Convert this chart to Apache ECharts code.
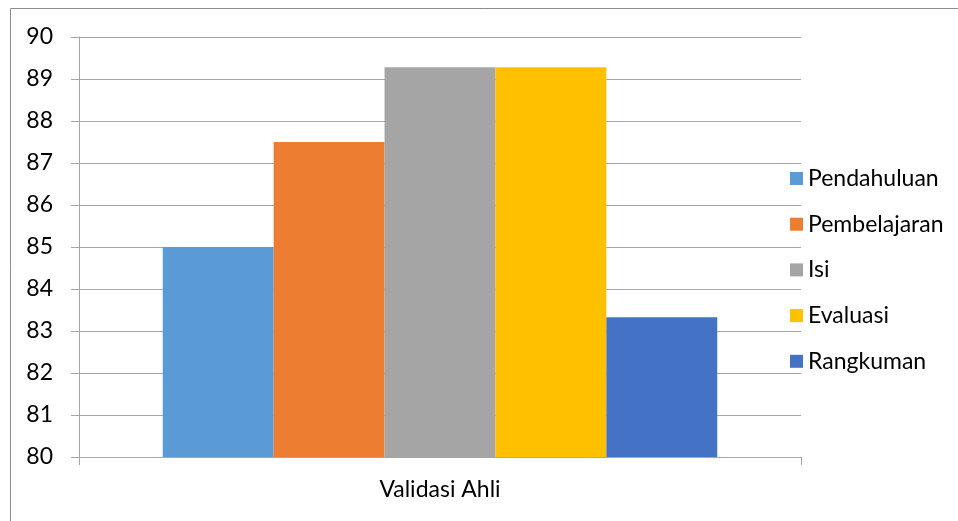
<!DOCTYPE html>
<html>
<head>
<meta charset="utf-8">
<script src="https://cdn.jsdelivr.net/npm/echarts@6/dist/echarts.min.js"></script>
<style>
  html, body { margin: 0; padding: 0; background: #fff; }
  #chart { width: 958px; height: 521px; }
</style>
</head>
<body>
<div id="chart"></div>
<script>
var categories = ['Validasi Ahli'];
var seriesNames = ['Pendahuluan', 'Pembelajaran', 'Isi', 'Evaluasi', 'Rangkuman'];
var seriesValues = [85, 87.5, 89.28, 89.28, 83.33];
var seriesColors = ['#5B9BD5', '#ED7D31', '#A5A5A5', '#FFC000', '#4472C4'];

var myChart = echarts.init(document.getElementById('chart'));

var font = 'Lato, "Liberation Sans", sans-serif';
var lineColor = '#A6A6A6';

var series = seriesNames.map(function (name, i) {
  return {
    name: name,
    type: 'bar',
    data: [seriesValues[i]],
    barGap: '0%',
    barCategoryGap: '23.2%',
    itemStyle: { color: seriesColors[i], borderWidth: 0 }
  };
});

var option = {
  animation: false,
  textStyle: { fontFamily: font },
  graphic: [{
    type: 'polyline',
    shape: { points: [[10.5, 521], [10.5, 8.5], [958, 8.5]] },
    style: { stroke: '#8C8C8C', lineWidth: 1, fill: null }
  }],
  grid: { left: 79, right: 157, top: 37, bottom: 64 },
  legend: {
    orient: 'vertical',
    left: 785,
    top: 162,
    itemWidth: 13,
    itemHeight: 13,
    itemGap: 22.7,
    icon: 'rect',
    data: seriesNames,
    textStyle: { fontSize: 23, color: '#000', fontFamily: font }
  },
  xAxis: {
    type: 'category',
    data: categories,
    axisLine: { lineStyle: { color: lineColor } },
    axisTick: { show: true, length: 8, lineStyle: { color: lineColor } },
    axisLabel: { fontSize: 23, color: '#000', margin: 21 }
  },
  yAxis: {
    type: 'value',
    min: 80,
    max: 90,
    interval: 1,
    axisLine: { show: true, lineStyle: { color: lineColor } },
    axisTick: { show: true, length: 8, lineStyle: { color: lineColor } },
    axisLabel: { fontSize: 23, color: '#000', margin: 26 },
    splitLine: { lineStyle: { color: lineColor } }
  },
  series: series
};

myChart.setOption(option);
</script>
</body>
</html>
